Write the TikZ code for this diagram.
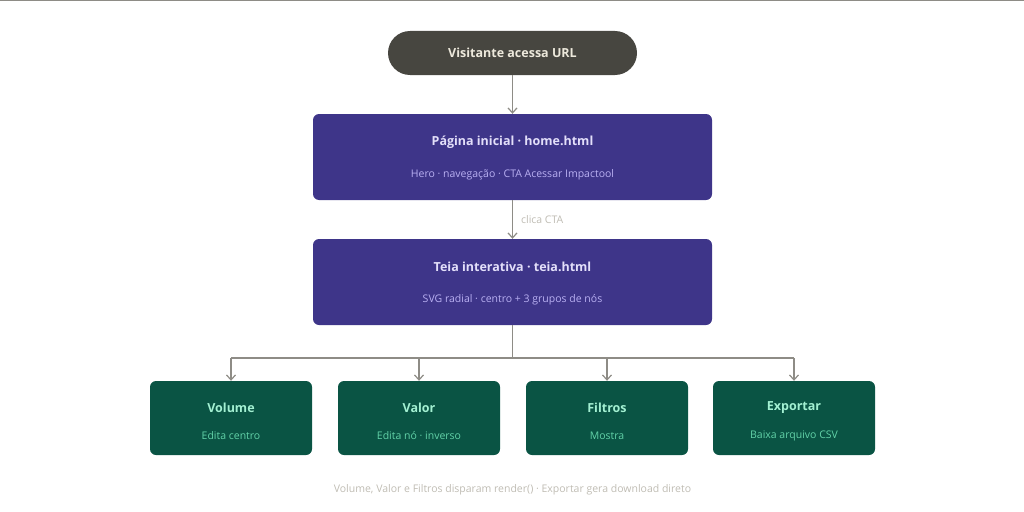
\documentclass[tikz,border=0pt]{standalone}
\usepackage{fontspec}
\setmainfont{Open Sans}
\usetikzlibrary{arrows.meta}
\definecolor{pill}{HTML}{474640}
\definecolor{pilltxt}{HTML}{EDE9DC}
\definecolor{purp}{HTML}{3E3589}
\definecolor{purpt}{HTML}{E3DFFA}
\definecolor{purps}{HTML}{B9B0F2}
\definecolor{grn}{HTML}{0A5444}
\definecolor{grnt}{HTML}{A3F0D2}
\definecolor{grns}{HTML}{62D2A8}
\definecolor{arr}{HTML}{8E8C86}
\definecolor{foot}{HTML}{BFBCB3}
\tikzset{
 every node/.style={inner sep=0pt},
 conn/.style={draw=arr, line width=1.2pt, -{Straight Barb[length=5pt,width=9pt]}},
 pbox/.style={fill=purp, rounded corners=6pt, minimum width=399pt, minimum height=86pt},
 gbox/.style={fill=grn, rounded corners=6pt, minimum width=162pt, minimum height=74pt},
}
\begin{document}
\begin{tikzpicture}[x=1pt,y=-1pt]
\useasboundingbox (0,0) rectangle (1024,511);
\draw[arr, line width=1pt] (0,0.5) -- (1024,0.5);
\node[fill=pill, rounded corners=22pt, minimum width=249pt, minimum height=44pt, text=pilltxt, font=\fontsize{12.5}{14}\selectfont\bfseries] (url) at (512.5,53) {Visitante acessa URL};
\node[pbox] (home) at (512.5,157) {};
\node[text=purpt, font=\fontsize{12.5}{14}\selectfont\bfseries] at (512.5,142) {Página inicial · home.html};
\node[text=purps, font=\fontsize{10.5}{12}\selectfont] at (512.5,175) {Hero · navegação · CTA Acessar Impactool};
\node[pbox] (teia) at (512.5,282) {};
\node[text=purpt, font=\fontsize{12.5}{14}\selectfont\bfseries] at (512.5,267) {Teia interativa · teia.html};
\node[text=purps, font=\fontsize{10.5}{12}\selectfont] at (512.5,300) {SVG radial · centro + 3 grupos de nós};
\draw[conn] (url) -- (home);
\draw[conn] (home) -- node[right=8pt, text=foot, font=\fontsize{10.5}{12}\selectfont]{clica CTA} (teia);
\foreach \n/\x/\t/\s in {vol/231/Volume/Edita centro, val/419/Valor/Edita nó · inverso, fil/607/Filtros/Mostra/oculta grupo, exp/794/Exportar/Baixa arquivo CSV}{
  \node[gbox] (\n) at (\x,418) {};
  \node[text=grnt, font=\fontsize{12.5}{14}\selectfont\bfseries] at (\x,408) {\t};
  \node[text=grns, font=\fontsize{10.5}{12}\selectfont] at (\x,436) {\s};
}
\coordinate (br) at (512.5,358);
\draw[draw=arr, line width=1.2pt] (teia.south) -- (br);
\draw[draw=arr, line width=1.2pt] (231,358) -- (794,358);
\foreach \n in {vol,val,fil,exp}{
  \draw[conn] (\n.north |- br) -- (\n.north);
}
\node[text=foot, font=\fontsize{10.5}{12}\selectfont] (ft) at (512.5,490) {Volume, Valor e Filtros disparam render() · Exportar gera download direto};
\end{tikzpicture}
\end{document}
